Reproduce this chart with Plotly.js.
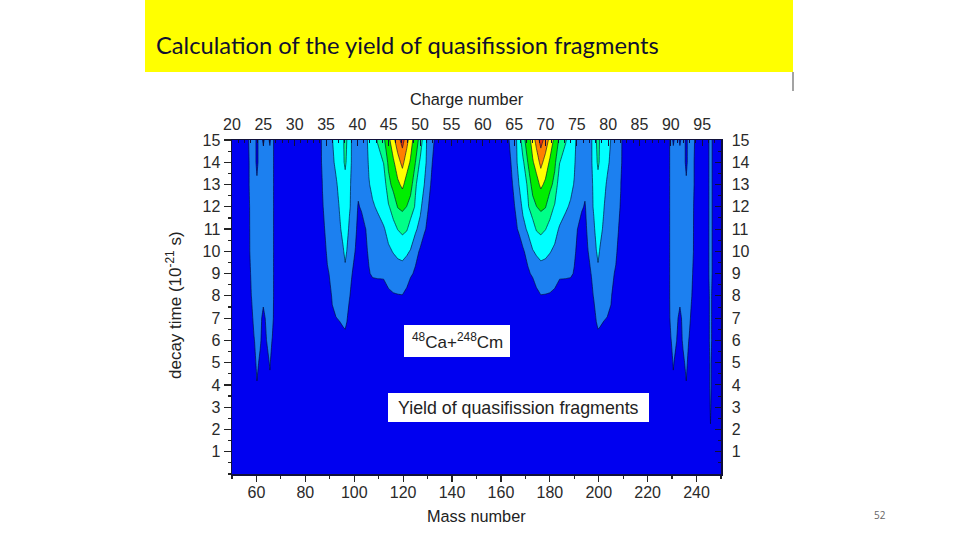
<!DOCTYPE html>
<html><head><meta charset="utf-8">
<script src="https://cdn.plot.ly/plotly-3.0.1.min.js"></script>
<style>html,body{margin:0;padding:0;background:#fff}#c{width:960px;height:540px}</style>
</head><body><div id="c"></div>
<script>
const massNumber = [50,56,58,59,60.2,61.5,62.8,64.2,65.5,66.5,67.5,85,
 87,89,91,92.5,94,95.5,96.3,97,98,99,100.5,101.65,103,104.5,106,107.5,109.5,112,114,116,117.8,119.7,121.5,123,125,127,128.5,130,131.5,133,135,
 161,163,164.5,166,167.5,169,171,173,174.5,176.3,178.2,180,182,184,186.5,188.5,190,191.5,193,194.35,195.5,197,198,199,199.7,200.5,202,203.5,205,207,209,
 211,228.5,229.5,230.5,231.8,233.2,234.5,235.8,237,238,240,
 244.6,245.1,245.7,246.3,247,250];
const decayTime = [0,2,3,4,5,6,7,8,9,10,11,12,13,14,15];

const y15 = [0,.6,1.6,1.6,.7,1.6,.8,1.6,.8,1.6,.4,0,
 1.3,1.5,1.95,2.5,2.6,2.9,3.3,2.98,2.5,1.9,1.5,1.5,1.5,1.6,2.3,2.6,3.05,3.8,4.7,5.7,6.6,7.4,6.36,5.46,4.44,3.7,2.45,1.84,1.4,.9,0,
 0,.9,1.4,1.84,2.45,3.7,4.44,5.46,6.36,7.4,6.6,5.7,4.7,3.8,3.05,2.6,2.3,1.6,1.5,1.5,1.5,1.9,2.5,2.98,3.3,2.9,2.6,2.5,1.95,1.5,1.3,
 0,.4,1.6,.8,1.6,.8,1.6,.7,1.6,1.6,.6,
 0,1.1,1.9,1.1,0,0];
const y14 = [0,.5,1.5,1.6,.7,1.6,1.6,1.6,1.6,1.6,.4,0,
 1.25,1.5,1.8,2.2,2.5,2.85,3.2,2.8,2.4,1.9,1.5,1.5,1.5,1.6,2.1,2.4,2.7,3.02,4.2,4.85,5.6,6.3,5.4,4.9,4.02,2.8,2.3,1.8,1.2,.5,0,
 0,.5,1.2,1.8,2.3,2.8,4.02,4.9,5.4,6.3,5.6,4.85,4.2,3.02,2.7,2.4,2.1,1.6,1.5,1.5,1.5,1.9,2.4,2.8,3.2,2.85,2.5,2.2,1.8,1.5,1.25,
 0,.4,1.6,1.6,1.6,1.6,1.6,.7,1.6,1.5,.5,
 0,1.1,1.9,1.1,0,0];
const y13 = [0,.5,1.5,1.6,1.2,1.6,1.6,1.6,1.6,1.6,.4,0,
 1.02,1.4,1.6,1.85,2.3,2.5,2.6,2.5,2.2,1.8,1.5,1.3,1.5,1.6,1.95,2.2,2.3,2.4,3.7,4.3,4.8,5.2,4.6,4.5,3.1,2.6,2.05,1.5,.9,.3,0,
 0,.3,.9,1.5,2.05,2.6,3.1,4.5,4.6,5.2,4.8,4.3,3.7,2.4,2.3,2.2,1.95,1.6,1.5,1.3,1.5,1.8,2.2,2.5,2.6,2.5,2.3,1.85,1.6,1.4,1.02,
 0,.4,1.6,1.6,1.6,1.6,1.6,1.2,1.6,1.5,.5,
 0,1.1,1.9,1.1,0,0];
const y12 = [0,.4,1.4,1.6,1.5,1.6,1.6,1.6,1.6,1.6,.4,0,
 .95,1.3,1.5,1.7,2.05,2.3,2.4,2.25,2.08,1.85,1.4,.9,1.15,1.5,1.75,1.9,2.1,2.5,2.9,3.4,4.05,4.2,3.98,3.5,2.9,2.2,1.6,1.1,.7,.2,0,
 0,.2,.7,1.1,1.6,2.2,2.9,3.5,3.98,4.2,4.05,3.4,2.9,2.5,2.1,1.9,1.75,1.5,1.15,.9,1.4,1.85,2.08,2.25,2.4,2.3,2.05,1.7,1.5,1.3,.95,
 0,.4,1.6,1.6,1.6,1.6,1.6,1.5,1.6,1.4,.4,
 0,1.1,1.9,1.1,0,0];
const y11 = [0,.35,1.4,1.6,1.6,1.6,1.6,1.6,1.6,1.6,.4,0,
 .8,1.25,1.4,1.6,1.9,2.2,2.3,2.2,1.9,1.7,1.2,.7,.5,.95,1.3,1.5,1.7,1.9,2.3,2.7,3.03,3.25,3.08,2.6,2.15,1.7,1.2,.8,.3,0,0,
 0,0,.3,.8,1.2,1.7,2.15,2.6,3.08,3.25,3.03,2.7,2.3,1.9,1.7,1.5,1.3,.95,.5,.7,1.2,1.7,1.9,2.2,2.3,2.2,1.9,1.6,1.4,1.25,.8,
 0,.4,1.6,1.6,1.6,1.6,1.6,1.6,1.6,1.4,.35,
 0,1.1,1.9,1.1,0,0];
const y10 = [0,.3,1.4,1.6,1.6,1.6,1.6,1.6,1.6,1.6,.4,0,
 .5,1.15,1.3,1.5,1.7,1.95,2.15,1.98,1.7,1.4,.95,.5,.3,.7,1.2,1.4,1.5,1.65,1.85,2.05,2.2,2.3,2.12,1.95,1.4,.85,.4,.1,0,0,0,
 0,0,0,.1,.4,.85,1.4,1.95,2.12,2.3,2.2,2.05,1.85,1.65,1.5,1.4,1.2,.7,.3,.5,.95,1.4,1.7,1.98,2.15,1.95,1.7,1.5,1.3,1.15,.5,
 0,.4,1.6,1.6,1.6,1.6,1.6,1.6,1.6,1.4,.3,
 0,1.1,1.9,1.1,0,0];
const y9 = [0,.2,1.2,1.6,1.6,1.6,1.6,1.6,1.6,1.6,.4,0,
 .2,.9,1.2,1.4,1.6,1.75,1.85,1.7,1.4,1.05,.6,.3,.1,.3,.9,1.2,1.25,1.3,1.4,1.5,1.6,1.6,1.5,1.2,.8,.3,.1,0,0,0,0,
 0,0,0,0,.1,.3,.8,1.2,1.5,1.6,1.6,1.5,1.4,1.3,1.25,1.2,.9,.3,.1,.3,.6,1.05,1.4,1.7,1.85,1.75,1.6,1.4,1.2,.9,.2,
 0,.4,1.6,1.6,1.6,1.6,1.6,1.6,1.6,1.2,.2,
 0,1.1,1.9,1.1,0,0];
const y8 = [0,0,1.05,1.6,1.6,1.6,1.5,1.6,1.6,1.6,.4,0,
 0,.4,1.1,1.3,1.4,1.5,1.5,1.4,1.1,.7,.3,.1,0,0,.1,.1,.15,.1,.8,.92,.95,.97,.7,.1,0,0,0,0,0,0,0,
 0,0,0,0,0,0,0,.1,.7,.97,.95,.92,.8,.1,.15,.1,.1,0,0,.1,.3,.7,1.1,1.4,1.5,1.5,1.4,1.3,1.1,.4,0,
 0,.4,1.6,1.6,1.6,1.5,1.6,1.6,1.6,1.05,0,
 0,.8,1.7,.8,0,0];
const y7 = [0,0,.6,1.4,1.6,1.5,.5,1.4,1.6,1.5,.3,0,
 0,.2,.85,.98,1.05,1.2,1.25,1.08,.6,.2,.1,0,0,0,0,0,0,0,0,0,0,0,0,0,0,0,0,0,0,0,0,
 0,0,0,0,0,0,0,0,0,0,0,0,0,0,0,0,0,0,0,0,.1,.2,.6,1.08,1.25,1.2,1.05,.98,.85,.2,0,
 0,.3,1.5,1.6,1.4,.5,1.5,1.6,1.4,.6,0,
 0,.8,1.7,.8,0,0];
const y6 = [0,0,.2,.9,1.5,1.3,.2,1.05,1.6,.9,.1,0,
 0,0,.2,.4,.7,.7,.75,.6,.2,0,0,0,0,0,0,0,0,0,0,0,0,0,0,0,0,0,0,0,0,0,0,
 0,0,0,0,0,0,0,0,0,0,0,0,0,0,0,0,0,0,0,0,0,0,.2,.6,.75,.7,.7,.4,.2,0,0,
 0,.1,.9,1.6,1.05,.2,1.3,1.5,.9,.2,0,
 0,.8,1.7,.8,0,0];
const y5 = [0,0,0,.2,1.45,.6,0,.4,1.15,.3,0,0,
 0,0,0,0,0,0,0,0,0,0,0,0,0,0,0,0,0,0,0,0,0,0,0,0,0,0,0,0,0,0,0,
 0,0,0,0,0,0,0,0,0,0,0,0,0,0,0,0,0,0,0,0,0,0,0,0,0,0,0,0,0,0,0,
 0,0,.3,1.15,.4,0,.6,1.45,.2,0,0,
 0,.5,1.5,.5,0,0];
const y4 = [0,0,0,0,.9,.2,0,.1,.7,.1,0,0,
 0,0,0,0,0,0,0,0,0,0,0,0,0,0,0,0,0,0,0,0,0,0,0,0,0,0,0,0,0,0,0,
 0,0,0,0,0,0,0,0,0,0,0,0,0,0,0,0,0,0,0,0,0,0,0,0,0,0,0,0,0,0,0,
 0,0,.1,.7,.1,0,.2,.9,0,0,0,
 0,.5,1.5,.5,0,0];
const y3 = [0,0,0,0,0,0,0,0,0,0,0,0,
 0,0,0,0,0,0,0,0,0,0,0,0,0,0,0,0,0,0,0,0,0,0,0,0,0,0,0,0,0,0,0,
 0,0,0,0,0,0,0,0,0,0,0,0,0,0,0,0,0,0,0,0,0,0,0,0,0,0,0,0,0,0,0,
 0,0,0,0,0,0,0,0,0,0,0,
 0,.1,1.3,.1,0,0];
const y2 = [0,0,0,0,0,0,0,0,0,0,0,0,
 0,0,0,0,0,0,0,0,0,0,0,0,0,0,0,0,0,0,0,0,0,0,0,0,0,0,0,0,0,0,0,
 0,0,0,0,0,0,0,0,0,0,0,0,0,0,0,0,0,0,0,0,0,0,0,0,0,0,0,0,0,0,0,
 0,0,0,0,0,0,0,0,0,0,0,
 0,0,.9,0,0,0];
const y0 = [0,0,0,0,0,0,0,0,0,0,0,0,
 0,0,0,0,0,0,0,0,0,0,0,0,0,0,0,0,0,0,0,0,0,0,0,0,0,0,0,0,0,0,0,
 0,0,0,0,0,0,0,0,0,0,0,0,0,0,0,0,0,0,0,0,0,0,0,0,0,0,0,0,0,0,0,
 0,0,0,0,0,0,0,0,0,0,0,
 0,0,0,0,0,0];
const yieldRows = [y0,y2,y3,y4,y5,y6,y7,y8,y9,y10,y11,y12,y13,y14,y15];

const massTicks = [60,80,100,120,140,160,180,200,220,240];
const chargeTicks = [20,25,30,35,40,45,50,55,60,65,70,75,80,85,90,95];
const timeTicks = [1,2,3,4,5,6,7,8,9,10,11,12,13,14,15];
const bandColors = ['#0000f0','#1c80f0','#00ffff','#00ff88','#00ee00','#ffff00','#ff8000','#e83010'];

const L=232,R=721,T=140,B=474;
const px=x=>(x-L)/(R-L), py=y=>(B-y)/(B-T);
const font={family:'"Liberation Sans",Arial,sans-serif',size:16,color:'#2a2a2a'};
const titleFont={family:font.family,size:16.3,color:'#2a2a2a'};
const ax={showgrid:false,zeroline:false,showline:true,linecolor:'#10103a',linewidth:1.5,tickcolor:'#222',tickfont:font};
const note=(x,y,text,size)=>({xref:'paper',yref:'paper',x:px(x),y:py(y),text,showarrow:false,xanchor:'center',yanchor:'middle',font:{family:font.family,size,color:'#222'}});
const rect=(x0,y0,x1,y1,fill)=>({type:'rect',xref:'paper',yref:'paper',x0:px(x0),x1:px(x1),y0:py(y0),y1:py(y1),fillcolor:fill,line:{width:0},layer:'above'});

const traces=[
 {type:'contour',x:massNumber,y:decayTime,z:yieldRows,autocontour:false,
  contours:{start:1,end:7,size:1,coloring:'fill',showlines:true},
  line:{color:'rgba(0,10,50,0.7)',width:0.9,smoothing:0},
  colorscale:bandColors.map((c,i)=>[i/(bandColors.length-1),c]),zmin:0.5,zmax:7.5,showscale:false,hoverinfo:'skip'},
 {type:'scatter',x:chargeTicks,y:timeTicks.slice(0,16),xaxis:'x2',yaxis:'y2',mode:'markers',marker:{opacity:0},hoverinfo:'skip',showlegend:false}
];
const layout={
 width:960,height:540,paper_bgcolor:'#fff',plot_bgcolor:'#0000f0',showlegend:false,
 margin:{l:L,r:960-R,t:T,b:540-B,pad:0},font,
 xaxis:Object.assign({},ax,{range:[50,250],tickvals:massTicks,ticks:'outside',ticklen:6,tickwidth:1.2,ticklabelstandoff:-3,
   minor:{dtick:10,ticks:'outside',ticklen:3,tickcolor:'#222'}}),
 yaxis:Object.assign({},ax,{range:[0,15],tickvals:timeTicks,ticks:'outside',ticklen:7,tickwidth:1.2,
   minor:{dtick:0.5,ticks:'outside',ticklen:3,tickcolor:'#222'}}),
 xaxis2:Object.assign({},ax,{overlaying:'x',side:'top',anchor:'y2',range:[20,98],tickvals:chargeTicks,ticks:'inside',ticklen:6,tickcolor:'#10103a',ticklabelstandoff:2,
   minor:{dtick:1,ticks:'inside',ticklen:3,tickcolor:'#10103a'}}),
 yaxis2:Object.assign({},ax,{overlaying:'y',side:'right',anchor:'x2',range:[0,15],tickvals:timeTicks,ticks:'inside',ticklen:6,tickcolor:'#10103a',ticklabelstandoff:6,
   minor:{dtick:0.5,ticks:'inside',ticklen:3,tickcolor:'#10103a'}}),
 shapes:[
  rect(145,0,793,72,'#ffff00'),
  {type:'line',xref:'paper',yref:'paper',x0:px(793),x1:px(793),y0:py(72),y1:py(91),line:{color:'#666',width:1.2}},
  rect(404,325,510,357,'#ffffff'),
  rect(388,393,649,422,'#ffffff')
 ],
 annotations:[
  {xref:'paper',yref:'paper',x:px(154),y:py(45),xanchor:'left',yanchor:'middle',showarrow:false,
   text:'Calculation of the yield of quasifission fragments',font:{family:'Lato,"Open Sans",sans-serif',size:23.7,color:'#101030'}},
  note(457,341,'<sup>48</sup>Ca+<sup>248</sup>Cm',17),
  note(518,407.5,'Yield of quasifission fragments',17.8),
  note(467,99,'Charge number',16.3),
  note(476.5,516,'Mass number',16.3),
  Object.assign(note(174,305,'decay time (10<sup>-21</sup> s)',17),{textangle:-90}),
  {xref:'paper',yref:'paper',x:px(880),y:py(515),xanchor:'center',yanchor:'middle',showarrow:false,text:'52',font:{family:'"Open Sans",sans-serif',size:10,color:'#666'}}
 ]
};
Plotly.newPlot('c',traces,layout,{displayModeBar:false,staticPlot:true});
</script></body></html>
